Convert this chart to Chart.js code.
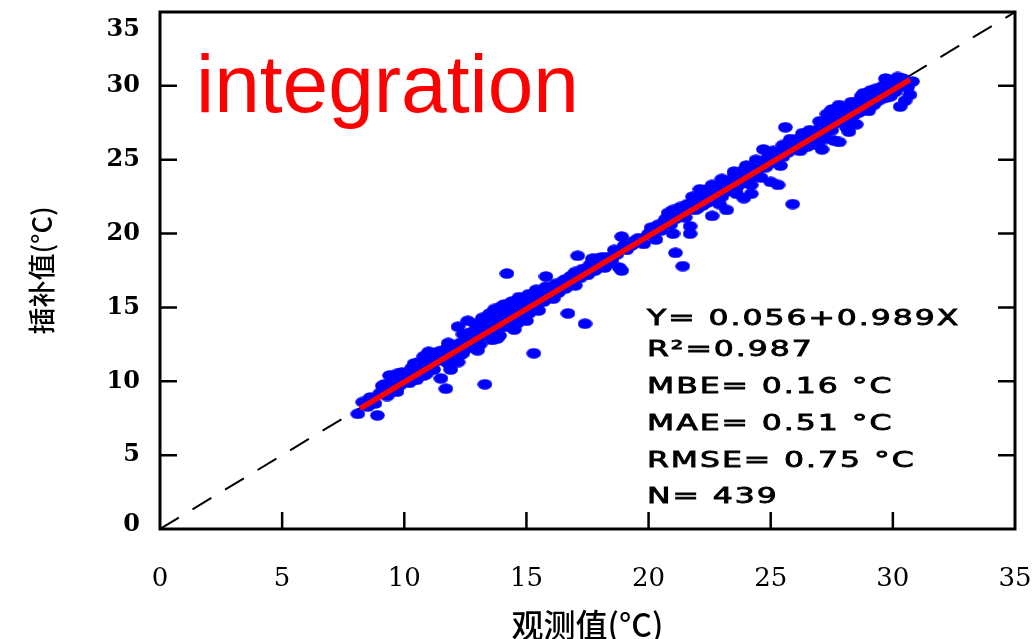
<!DOCTYPE html>
<html>
<head>
<meta charset="utf-8">
<script src="https://cdn.jsdelivr.net/npm/chart.js@4.4.1/dist/chart.umd.min.js"></script>
<style>
  body { margin: 0; background: #fff; }
  #wrap { width: 1035px; height: 639px; }
</style>
</head>
<body>
<div id="wrap"><canvas id="myChart" width="1035" height="639"></canvas></div>
<script>
var obsValues = [
  8.1, 8.3, 8.5, 8.6, 8.9, 8.8, 9.1, 9.0, 9.3, 9.4, 9.6, 9.5, 9.8, 9.9, 10.0, 10.2, 10.3, 10.4, 10.5, 10.6,
  10.7, 10.8, 10.9, 11.0, 11.1, 11.2, 11.3, 11.4, 11.5, 11.6, 11.7, 11.8, 11.9, 11.9, 12.0, 12.1, 12.2, 12.3, 12.4, 12.5,
  12.6, 12.7, 12.8, 12.9, 13.0, 13.1, 13.2, 13.3, 13.4, 13.5, 13.6, 13.7, 13.8, 13.9, 14.0, 14.1, 14.2, 14.2, 14.3, 14.4,
  14.5, 14.6, 14.7, 14.8, 14.9, 15.0, 15.1, 15.2, 15.3, 15.4, 15.5, 15.6, 15.7, 15.8, 15.9, 16.0, 16.1, 16.2, 16.3, 16.5,
  16.6, 16.7, 16.8, 16.9, 17.0, 17.1, 17.2, 17.3, 17.4, 17.5, 17.6, 17.7, 17.8, 17.9, 18.0, 18.2, 18.3, 18.5, 18.7, 18.8,
  18.9, 18.9, 19.1, 19.3, 19.6, 19.8, 20.0, 20.1, 20.3, 20.5, 20.7, 20.8, 20.9, 21.0, 21.1, 21.2, 21.3, 21.4, 21.5, 21.6,
  21.7, 21.7, 21.8, 21.9, 22.0, 22.1, 22.2, 22.3, 22.4, 22.5, 22.6, 22.7, 22.8, 22.9, 23.0, 23.1, 23.2, 23.3, 23.4, 23.5,
  23.6, 23.7, 23.8, 23.9, 24.0, 24.1, 24.2, 24.3, 24.4, 24.5, 24.6, 24.7, 24.8, 24.9, 25.0, 25.1, 25.2, 25.3, 25.4, 25.5,
  25.6, 25.7, 25.8, 25.9, 26.0, 26.1, 26.2, 26.3, 26.4, 26.5, 26.6, 26.7, 26.8, 26.9, 27.0, 27.1, 27.2, 27.3, 27.4, 27.5,
  27.6, 27.7, 27.8, 27.9, 28.0, 28.1, 28.2, 28.3, 28.4, 28.5, 28.6, 28.7, 28.8, 28.9, 29.0, 29.1, 29.2, 29.3, 29.4, 29.5,
  29.6, 29.7, 29.8, 29.9, 30.0, 30.1, 30.2, 30.3, 30.4, 30.5, 30.6, 30.7, 30.8,
  10.1, 10.6, 11.1, 11.6, 12.0, 12.3, 12.6, 12.8, 13.1, 13.3, 13.6, 13.8, 14.0, 14.3, 14.6, 14.9, 15.2, 15.5, 16.4, 16.9,
  17.3, 17.6, 18.1, 18.4, 19.4, 20.2, 20.6, 21.1, 21.4, 21.8, 22.2, 22.5, 22.8, 23.1, 23.4, 23.7, 24.0, 24.3, 24.6, 24.9,
  25.3, 25.6, 25.9, 26.2, 26.5, 26.8, 27.1, 27.4, 27.7, 28.0, 28.3, 28.6, 28.9, 29.2, 29.5, 29.8, 30.1, 30.4,
  9.2, 9.7, 10.3, 10.9, 11.3, 11.8, 12.2, 12.7, 13.0, 13.4, 13.9, 14.4, 14.8, 15.3, 15.8, 16.6, 17.0, 17.9, 18.6, 19.0,
  20.4, 21.0, 21.6, 22.0, 22.4, 22.7, 23.0, 23.5, 23.9, 24.2, 24.8, 25.1, 25.5, 25.8, 26.3, 26.6, 27.0, 27.5, 27.9, 28.2,
  28.5, 28.8, 29.3, 29.7, 30.2,
  12.4, 12.9, 13.2, 13.5, 13.7, 14.0, 14.4, 14.7, 15.1, 15.4, 13.0, 13.8, 14.5, 15.0, 12.2, 11.4, 11.8, 10.8, 10.4, 9.7,
  22.1, 22.6, 23.0, 23.5, 24.0, 24.4, 24.9, 22.9, 23.6, 24.2, 27.3, 27.8, 28.3, 28.7, 29.1, 27.2, 28.1, 29.0
];
var interpValues = [
  7.8, 8.6, 8.3, 8.9, 7.7, 8.5, 9.7, 9.2, 9.0, 10.4, 10.1, 9.6, 9.7, 10.6, 10.2, 9.9, 10.5, 10.8, 10.1, 11.3,
  10.9, 10.4, 11.4, 12.0, 11.0, 10.8, 11.6, 12.0, 10.2, 11.6, 9.5, 11.2, 12.1, 10.8, 11.7, 12.4, 13.7, 12.6, 11.9, 12.2,
  14.1, 12.9, 12.3, 13.4, 13.0, 12.5, 13.8, 9.8, 13.3, 14.2, 12.8, 13.6, 14.4, 13.1, 14.0, 15.2, 17.3, 13.7, 14.6, 14.1,
  15.0, 13.9, 14.7, 15.3, 14.4, 15.1, 14.6, 15.6, 11.9, 15.2, 14.8, 15.9, 15.4, 17.1, 15.7, 16.2, 15.6, 16.6, 16.0, 16.8,
  16.3, 14.6, 17.1, 16.6, 17.4, 18.5, 17.0, 17.6, 13.9, 17.2, 17.9, 18.3, 17.5, 18.1, 18.0, 17.7, 18.4, 18.2, 18.6, 17.7,
  19.8, 17.5, 18.9, 19.2, 19.7, 19.3, 20.0, 20.4, 19.6, 20.2, 21.0, 21.4, 20.6, 20.0, 18.7, 21.3, 21.8, 17.8, 21.1, 21.7,
  20.5, 20.0, 22.5, 21.6, 22.0, 22.4, 21.9, 22.7, 22.1, 22.9, 21.2, 22.5, 23.1, 22.6, 23.3, 22.8, 21.6, 23.4, 22.9, 23.6,
  23.1, 23.9, 23.4, 22.4, 24.1, 23.7, 22.7, 24.4, 24.0, 24.6, 23.8, 25.7, 24.5, 25.1, 23.5, 24.9, 25.3, 23.3, 24.6, 26.0,
  27.2, 25.5, 26.2, 22.0, 25.9, 26.4, 25.6, 26.1, 26.7, 25.9, 27.0, 26.4, 26.8, 26.0, 27.1, 25.7, 27.4, 26.9, 27.8, 28.4,
  26.3, 27.5, 26.2, 28.1, 28.4, 27.6, 26.9, 28.3, 28.0, 27.4, 28.7, 28.5, 29.5, 28.6, 29.1, 28.8, 29.4, 28.9, 29.6, 29.1,
  30.0, 30.5, 30.4, 29.3, 29.8, 29.6, 30.2, 28.6, 30.1, 29.0, 29.9, 29.4, 30.3,
  10.4, 10.7, 11.5, 12.1, 12.3, 11.8, 12.7, 13.1, 13.5, 13.1, 13.9, 13.4, 14.5, 14.0, 14.9, 15.0, 15.0, 15.6, 16.4, 17.2,
  17.3, 17.4, 18.4, 18.0, 19.5, 20.1, 20.7, 21.0, 21.5, 21.7, 22.3, 22.4, 22.7, 23.2, 23.3, 23.5, 23.8, 24.1, 24.5, 24.7,
  25.1, 25.6, 25.8, 26.1, 26.4, 26.5, 26.9, 27.2, 27.9, 27.8, 28.1, 28.2, 28.9, 28.7, 29.5, 29.6, 30.0, 30.5,
  9.8, 9.3, 10.9, 10.5, 11.9, 12.4, 12.0, 13.3, 12.6, 14.0, 14.3, 15.1, 15.5, 15.8, 16.4, 16.9, 16.5, 18.3, 18.9, 19.2,
  20.6, 21.6, 22.0, 21.7, 23.0, 23.2, 22.5, 24.0, 24.3, 23.9, 25.0, 25.6, 25.2, 26.4, 26.8, 26.2, 27.6, 27.0, 28.6, 28.4,
  28.9, 28.4, 29.8, 29.2, 30.6,
  13.2, 13.9, 14.3, 14.6, 14.9, 15.1, 15.4, 15.7, 15.9, 16.2, 12.1, 12.9, 13.5, 14.1, 11.3, 11.4, 12.6, 11.7, 11.2, 10.5,
  23.0, 23.3, 23.7, 24.2, 24.6, 25.0, 25.5, 22.0, 22.7, 23.3, 28.1, 28.7, 28.9, 29.3, 29.7, 26.4, 27.2, 28.3
];

// fitted line end points (Y = 0.056 + 0.989X) and the 1:1 line
var fitX = [8.2, 30.7];
var fitY = [8.17, 30.42];
var diagX = [0, 35];
var diagY = [0, 35];

var tickValues = [0, 5, 10, 15, 20, 25, 30, 35];
var titleText = 'integration';
var statLines = ['Y= 0.056+0.989X', 'R\u00b2=0.987', 'MBE= 0.16 \u00b0C', 'MAE= 0.51 \u00b0C', 'RMSE= 0.75 \u00b0C', 'N= 439'];

function pairs(xs, ys) {
  var out = [];
  for (var i = 0; i < xs.length; i++) out.push({ x: xs[i], y: ys[i] });
  return out;
}

// oval marker
var dot = document.createElement('canvas');
dot.width = 15;
dot.height = 11;
var dctx = dot.getContext('2d');
dctx.fillStyle = '#0000ff';
dctx.beginPath();
dctx.ellipse(7.5, 5.5, 7.3, 5.3, 0, 0, Math.PI * 2);
dctx.fill();

var framePlugin = {
  id: 'frame',
  afterDatasetsDraw: function(chart) {
    var c = chart.ctx, a = chart.chartArea;
    var xs = chart.scales.x, ys = chart.scales.y;
    c.save();
    c.strokeStyle = '#000';
    c.lineWidth = 3;
    c.strokeRect(a.left, a.top, a.right - a.left, a.bottom - a.top);
    c.lineWidth = 2.5;
    c.beginPath();
    for (var i = 1; i < tickValues.length - 1; i++) {
      var py = ys.getPixelForValue(tickValues[i]);
      c.moveTo(a.left, py); c.lineTo(a.left + 17, py);
      c.moveTo(a.right, py); c.lineTo(a.right - 17, py);
      var px = xs.getPixelForValue(tickValues[i]);
      c.moveTo(px, a.bottom); c.lineTo(px, a.bottom - 17);
    }
    c.stroke();
    c.restore();
  },
  afterDraw: function(chart) {
    var c = chart.ctx;
    c.save();
    c.fillStyle = '#ff0000';
    c.font = '82px "Liberation Sans", Arial, sans-serif';
    c.textBaseline = 'alphabetic';
    c.fillText(titleText, 196, 112);

    c.fillStyle = '#000';
    c.strokeStyle = '#000';
    c.lineWidth = 0.8;
    c.font = '21px "DejaVu Sans", sans-serif';
    c.letterSpacing = '1.3px';
    var base = [325, 356, 393, 430, 467, 503];
    for (var i = 0; i < statLines.length; i++) {
      c.save();
      c.translate(647, base[i]);
      c.scale(1.5, 1);
      c.fillText(statLines[i], 0, 0);
      c.strokeText(statLines[i], 0, 0);
      c.restore();
    }
    c.restore();
  }
};

var ctx = document.getElementById('myChart').getContext('2d');
var myChart = new Chart(ctx, {
  type: 'scatter',
  data: {
    datasets: [{
      data: pairs(fitX, fitY),
      showLine: true,
      borderColor: '#ff0000',
      borderWidth: 5.5,
      pointRadius: 0,
      borderCapStyle: 'butt'
    }, {
      data: pairs(obsValues, interpValues),
      pointStyle: dot,
      backgroundColor: '#0000ff',
      borderWidth: 0
    }, {
      data: pairs(diagX, diagY),
      showLine: true,
      borderColor: '#000',
      borderWidth: 2,
      borderDash: [22, 16],
      pointRadius: 0
    }]
  },
  options: {
    responsive: false,
    animation: false,
    events: [],
    layout: { autoPadding: false, padding: { top: 12, right: 20, bottom: 0, left: 0 } },
    plugins: { legend: { display: false }, tooltip: { enabled: false } },
    scales: {
      x: {
        type: 'linear',
        min: 0,
        max: 35,
        afterBuildTicks: function(scale) { scale.ticks = tickValues.map(function(v) { return { value: v }; }); },
        afterFit: function(scale) {
          scale.height = 110;
          scale.paddingLeft = 0;
          scale.paddingRight = 0;
        },
        grid: { display: false, drawTicks: false },
        border: { display: false },
        ticks: { autoSkip: false, padding: 37, color: '#000', font: { family: '"DejaVu Serif", serif', size: 26, lineHeight: 1 } },
        title: {
          display: true,
          text: '观测值(°C)',
          color: '#000',
          padding: { top: 0, bottom: 0 },
          font: { family: '"Noto Sans CJK SC", sans-serif', size: 32, weight: '500', lineHeight: 0.88 }
        }
      },
      y: {
        type: 'linear',
        min: 0,
        max: 35,
        afterBuildTicks: function(scale) { scale.ticks = tickValues.map(function(v) { return { value: v }; }); },
        afterFit: function(scale) {
          scale.width = 160;
          scale.paddingTop = 0;
          scale.paddingBottom = 0;
        },
        grid: { display: false, drawTicks: false },
        border: { display: false },
        ticks: {
          autoSkip: false,
          padding: 20,
          color: '#000',
          // end labels sit a little inside the frame, as in the original
          callback: function(value) {
            if (value === 35) return ['', '35'];
            if (value === 0) return ['0', ''];
            return String(value);
          },
          font: function(c) {
            var lh = 1;
            if (c.tick && c.tick.value === 35) lh = 36 / 24;
            if (c.tick && c.tick.value === 0) lh = 8 / 24;
            return { family: '"DejaVu Serif", serif', size: 24, weight: 'bold', lineHeight: lh };
          }
        },
        title: {
          display: true,
          text: '插补值(°C)',
          color: '#000',
          padding: { top: 26, bottom: 0 },
          font: { family: '"Noto Sans CJK SC", sans-serif', size: 27, weight: '500', lineHeight: 1.2 }
        }
      }
    }
  },
  plugins: [framePlugin]
});
</script>
</body>
</html>
